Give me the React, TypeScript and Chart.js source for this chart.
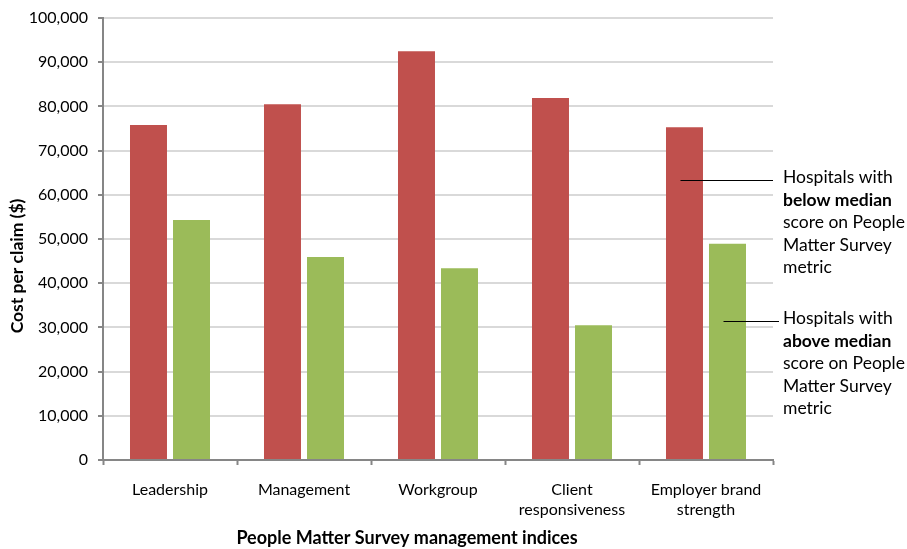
import React, { useEffect, useRef } from "react";
import { Chart, registerables } from "chart.js";

Chart.register(...registerables);

const categories: (string | string[])[] = [
  "Leadership",
  "Management",
  "Workgroup",
  ["Client", "responsiveness"],
  ["Employer brand", "strength"],
];
const belowMedian = [75800, 80500, 92500, 81900, 75300];
const aboveMedian = [54300, 45900, 43400, 30500, 48900];

const belowLabel = ["Hospitals with", "below median", "score on People", "Matter Survey", "metric"];
const aboveLabel = ["Hospitals with", "above median", "score on People", "Matter Survey", "metric"];
const boldLine = 1;

const yTitle = "Cost per claim ($)";
const xTitle = "People Matter Survey management indices";

const FONT = "Lato, 'Open Sans', sans-serif";
const RED = "#C0504D";
const GREEN = "#9BBB59";

const calloutPlugin = {
  id: "callouts",
  afterDraw(chart: any) {
    const ctx = chart.ctx;
    const area = chart.chartArea;
    const y = chart.scales.y;
    const last = categories.length - 1;

    const drawCallout = (datasetIndex: number, value: number, lines: string[], lineEndX: number) => {
      const bar = chart.getDatasetMeta(datasetIndex).data[last];
      const yLine = Math.round(y.getPixelForValue(value));
      ctx.save();
      ctx.strokeStyle = "#000";
      ctx.lineWidth = 1;
      ctx.beginPath();
      ctx.moveTo(bar.x - 4, yLine + 0.5);
      ctx.lineTo(lineEndX, yLine + 0.5);
      ctx.stroke();
      ctx.fillStyle = "#000";
      ctx.textAlign = "left";
      ctx.textBaseline = "alphabetic";
      lines.forEach((t, i) => {
        ctx.font = (i === boldLine ? "bold " : "") + "17.5px " + FONT;
        ctx.fillText(t, area.right + 10, yLine + 3 + i * 22.5);
      });
      ctx.restore();
    };

    drawCallout(0, 63350, belowLabel, area.right);
    drawCallout(1, 31450, aboveLabel, area.right + 6);

    // axis titles
    ctx.save();
    ctx.fillStyle = "#000";
    ctx.font = "bold 18px " + FONT;
    ctx.textAlign = "center";
    ctx.textBaseline = "middle";
    ctx.fillText(xTitle, 407, 538);
    ctx.font = "bold 17.5px " + FONT;
    ctx.translate(17, 266);
    ctx.rotate(-Math.PI / 2);
    ctx.fillText(yTitle, 0, 0);
    ctx.restore();
  },
};

export default function App() {
  const ref = useRef<HTMLCanvasElement>(null);

  useEffect(() => {
    if (!ref.current) return;
    const chart = new Chart(ref.current, {
      type: "bar",
      data: {
        labels: categories,
        datasets: [
          {
            label: "Below median",
            data: belowMedian,
            backgroundColor: RED,
            categoryPercentage: 0.642,
            barPercentage: 0.86,
          },
          {
            label: "Above median",
            data: aboveMedian,
            backgroundColor: GREEN,
            categoryPercentage: 0.642,
            barPercentage: 0.86,
          },
        ],
      },
      options: {
        responsive: false,
        animation: false,
        layout: { padding: { top: 18, right: 134, left: 0, bottom: 0 } },
        plugins: {
          legend: { display: false },
          tooltip: { enabled: false },
        },
        scales: {
          x: {
            grid: {
              offset: true,
              drawOnChartArea: false,
              drawTicks: true,
              tickLength: 5,
              tickColor: "#868686",
              tickWidth: 2,
            },
            border: { color: "#868686", width: 2 },
            ticks: {
              color: "#000",
              font: { family: FONT, size: 16, lineHeight: 1.25 },
              padding: 15,
              maxRotation: 0,
            },
            afterFit(scale: any) {
              scale.height = 89;
              scale.paddingLeft = 0;
              scale.paddingRight = 0;
            },
          },
          y: {
            min: 0,
            max: 100000,
            ticks: {
              stepSize: 10000,
              color: "#000",
              font: { family: FONT, size: 16 },
              padding: 10,
              callback: (v: any) => Number(v).toLocaleString("en-US"),
            },
            grid: {
              color: "#D9D9D9",
              lineWidth: 2,
              tickLength: 5,
              tickColor: "#868686",
              tickWidth: 2,
            },
            border: { color: "#868686", width: 2 },
            afterFit(scale: any) {
              scale.width = 103;
              scale.paddingTop = 0;
              scale.paddingBottom = 0;
            },
          },
        },
      },
      plugins: [calloutPlugin],
    });
    return () => chart.destroy();
  }, []);

  return (
    <div style={{ position: "fixed", left: 0, top: 0, width: 907, height: 549, background: "#fff" }}>
      <canvas ref={ref} width={907} height={549} />
    </div>
  );
}
